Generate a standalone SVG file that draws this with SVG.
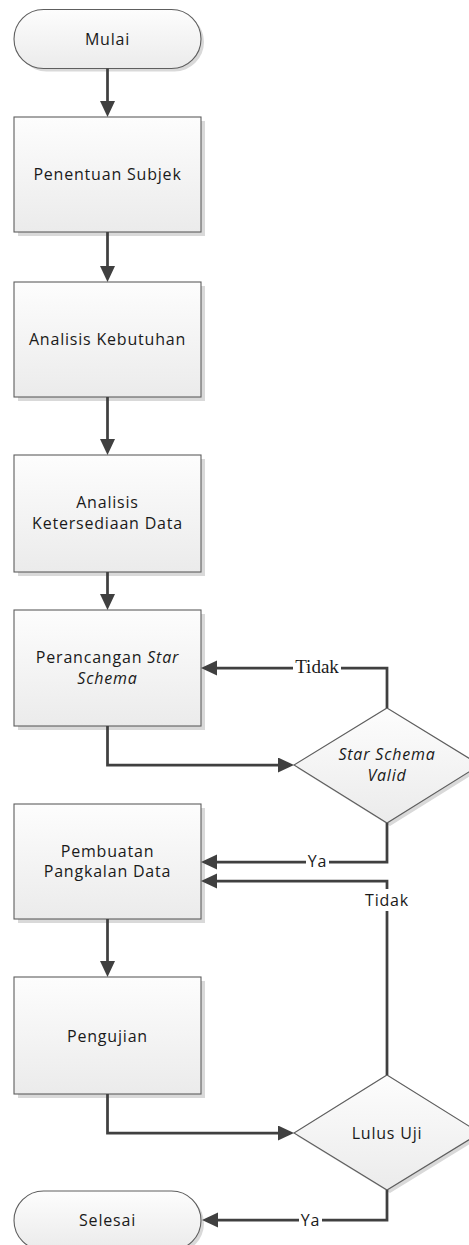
<svg xmlns="http://www.w3.org/2000/svg" width="469" height="1245" viewBox="0 0 469 1245">
<style>
.shape{fill:url(#g);stroke:#5e5e5e;stroke-width:1.1}
.shadow{fill:#d9d9d9;stroke:none}
.t{font-family:"Open Sans","Liberation Sans",sans-serif;font-size:16px;letter-spacing:0.8px;fill:#1a1a1a;text-anchor:middle}
.it{font-style:italic}
.ser{font-family:"Liberation Serif","Times New Roman",serif;font-size:19px;letter-spacing:0;fill:#1a1a1a;text-anchor:middle}
.c{fill:none;stroke:#404040;stroke-width:2.75;marker-end:url(#ah)}
.bg{fill:#ffffff}
</style>
<defs>
<linearGradient id="g" x1="0" y1="0" x2="0" y2="1">
<stop offset="0" stop-color="#fdfdfd"/>
<stop offset="1" stop-color="#ebebeb"/>
</linearGradient>
<marker id="ah" markerUnits="userSpaceOnUse" markerWidth="17" markerHeight="16" refX="12" refY="7.5" orient="auto" viewBox="0 0 17 16">
<path d="M0,0 L16,7.5 L0,15 z" fill="#404040"/>
</marker>
</defs>
<rect width="469" height="1245" fill="#ffffff"/>

<g id="mulai">
<rect class="shadow" x="17" y="12.5" width="187" height="59" rx="29.5"/>
<rect class="shape" x="14" y="9.5" width="187" height="59" rx="29.5"/>
<text class="t" x="107.5" y="44.5">Mulai</text>
</g>

<g id="penentuan-subjek">
<rect class="shadow" x="18" y="121" width="187" height="115"/>
<rect class="shape" x="14" y="117" width="187" height="115"/>
<text class="t" x="107.5" y="180">Penentuan Subjek</text>
</g>

<g id="analisis-kebutuhan">
<rect class="shadow" x="18" y="286" width="187" height="115"/>
<rect class="shape" x="14" y="282" width="187" height="115"/>
<text class="t" x="107.5" y="345">Analisis Kebutuhan</text>
</g>

<g id="analisis-ketersediaan">
<rect class="shadow" x="18" y="459" width="187" height="117"/>
<rect class="shape" x="14" y="455" width="187" height="117"/>
<text class="t" x="107.5" y="508">Analisis</text>
<text class="t" x="107.5" y="529">Ketersediaan Data</text>
</g>

<g id="perancangan">
<rect class="shadow" x="18" y="614" width="187" height="116"/>
<rect class="shape" x="14" y="610" width="187" height="116"/>
<text class="t" x="107.5" y="663">Perancangan <tspan class="it">Star</tspan></text>
<text class="t it" x="107.5" y="684">Schema</text>
</g>

<g id="star-schema-valid">
<polygon class="shadow" points="390,711 483,768 390,826 297,768"/>
<polygon class="shape" points="387,708 480,765 387,823 294,765"/>
<text class="t it" x="387" y="760">Star Schema</text>
<text class="t it" x="387" y="781">Valid</text>
</g>

<g id="pembuatan">
<rect class="shadow" x="18" y="808" width="187" height="115"/>
<rect class="shape" x="14" y="804" width="187" height="115"/>
<text class="t" x="107.5" y="857">Pembuatan</text>
<text class="t" x="107.5" y="877">Pangkalan Data</text>
</g>

<g id="pengujian">
<rect class="shadow" x="18" y="981" width="187" height="117"/>
<rect class="shape" x="14" y="977" width="187" height="117"/>
<text class="t" x="107.5" y="1042">Pengujian</text>
</g>

<g id="lulus-uji">
<polygon class="shadow" points="390,1078 483,1136 390,1193 297,1136"/>
<polygon class="shape" points="387,1075 480,1133 387,1190 294,1133"/>
<text class="t" x="387" y="1139">Lulus Uji</text>
</g>

<g id="selesai">
<rect class="shadow" x="17" y="1194" width="187" height="59" rx="29.5"/>
<rect class="shape" x="14" y="1191" width="187" height="59" rx="29.5"/>
<text class="t" x="107.5" y="1226">Selesai</text>
</g>

<g id="connectors">
<path class="c" d="M107.5,68.5 V113"/>
<path class="c" d="M107.5,232 V278"/>
<path class="c" d="M107.5,397 V451"/>
<path class="c" d="M107.5,572 V606"/>
<path class="c" d="M107.5,726 V765 H290"/>
<path class="c" d="M387,708 V668 H205"/>
<path class="c" d="M387,823 V862 H205"/>
<path class="c" d="M107.5,919 V973"/>
<path class="c" d="M387,1075 V881 H205"/>
<path class="c" d="M107.5,1094 V1133 H290"/>
<path class="c" d="M387,1190 V1220 H206"/>
<rect class="bg" x="293" y="659" width="48" height="18"/>
<text class="ser" x="317" y="673">Tidak</text>
<rect class="bg" x="306" y="853" width="23" height="18"/>
<text class="t" x="317.5" y="867">Ya</text>
<rect class="bg" x="362" y="889" width="50" height="22"/>
<text class="t" x="387" y="906">Tidak</text>
<rect class="bg" x="299" y="1211" width="23" height="18"/>
<text class="t" x="310.5" y="1226">Ya</text>
</g>
</svg>
